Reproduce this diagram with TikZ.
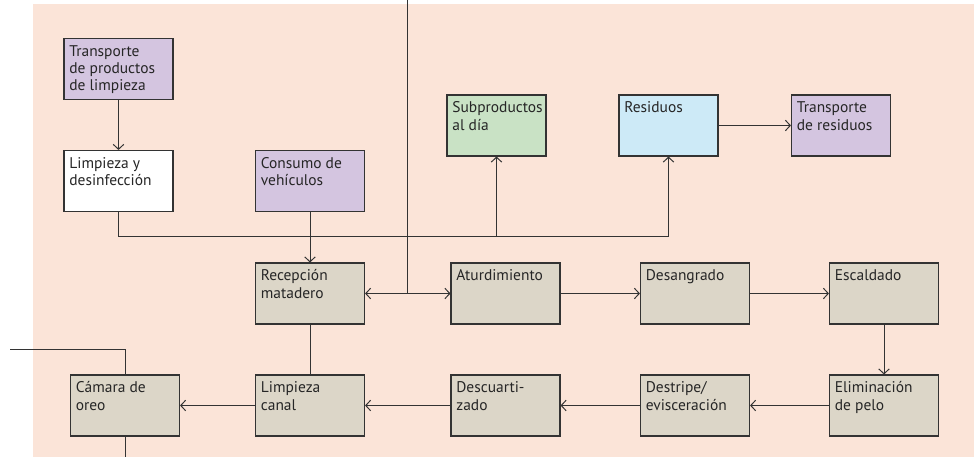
\documentclass[tikz,border=0pt]{standalone}
\usepackage{fontspec}
\setmainfont{PT Sans}
\usepackage{tikz}
\usetikzlibrary{arrows.meta}
\definecolor{fondo}{HTML}{FBE4D8}
\definecolor{gris}{HTML}{DCD6C8}
\definecolor{lila}{HTML}{D4C5E0}
\definecolor{verde}{HTML}{C9E2C5}
\definecolor{celeste}{HTML}{CDEAF7}
\definecolor{linea}{HTML}{333333}
\tikzset{
  >={Straight Barb[length=3.5pt,width=7.5pt]},
  caja/.style={draw=linea, line width=0.9pt, fill=gris, minimum width=2.72cm, minimum height=1.52cm, inner sep=0pt},
  cajita/.style={caja, minimum width=2.47cm},
  txt/.style={anchor=north west, align=left, inner xsep=4pt, inner ysep=5pt, text=black!85,
    font=\fontsize{11}{12.4}\selectfont},
  flujo/.style={draw=linea, line width=0.7pt}
}

\begin{document}
\begin{tikzpicture}[x=0.025cm, y=-0.025cm]
        \useasboundingbox (0,0) rectangle (974,457);
        \fill[fondo] (33,4) rectangle (974,457);
        % cajas de arriba
        \node[caja, fill=lila, label={[txt]north west:Transporte\\de productos\\de limpieza}] (tpl) at (118.5,69) {};
        \node[caja, fill=white, label={[txt]north west:Limpieza y\\desinfección}] (lyd) at (118.5,181) {};
        \node[caja, fill=lila, label={[txt]north west:Consumo de\\vehículos}] (cv) at (310,181) {};
        \node[cajita, fill=verde, label={[txt]north west:Subproductos\\al día}] (sub) at (496.5,125.5) {};
        \node[cajita, fill=celeste, label={[txt]north west:Residuos}] (res) at (668.5,125.5) {};
        \node[cajita, fill=lila, label={[txt]north west:Transporte\\de residuos}] (tr) at (841,125.5) {};
        % linea de proceso
        \node[caja, label={[txt]north west:Recepción\\matadero}] (rec) at (310,293.5) {};
        \node[caja, label={[txt]north west:Aturdimiento}] (atu) at (505.5,293.5) {};
        \node[caja, label={[txt]north west:Desangrado}] (des) at (695,293.5) {};
        \node[caja, label={[txt]north west:Escaldado}] (esc) at (884,293.5) {};
        \node[caja, label={[txt]north west:Cámara de\\oreo}] (cam) at (125,405.5) {};
        \node[caja, label={[txt]north west:Limpieza\\canal}] (lc) at (310,405.5) {};
        \node[caja, label={[txt]north west:Descuarti-\\zado}] (dsc) at (505.5,405.5) {};
        \node[caja, label={[txt]north west:Destripe/\\evisceración}] (dst) at (695,405.5) {};
        \node[caja, label={[txt]north west:Eliminación\\de pelo}] (eli) at (884,405.5) {};
        \coordinate (bus) at (0,236);
        \coordinate (arriba) at (407,0);
        \coordinate (camin) at (10,349);
        \coordinate (camout) at (125,457);
        % conexiones
        \draw[flujo,->] (tpl) -- (lyd);
        \draw[flujo,->] (lyd.south) |- (bus -| res.south) -- (res.south);
        \draw[flujo,->] (bus -| sub.south) -- (sub.south);
        \draw[flujo,->] (cv) -- (rec);
        \draw[flujo,->] (res) -- (tr);
        \draw[flujo] (arriba) -- (arriba |- rec.east);
        \draw[flujo,<->] (rec) -- (atu);
        \draw[flujo,->] (atu) -- (des);
        \draw[flujo,->] (des) -- (esc);
        \draw[flujo,->] (esc) -- (eli);
        \draw[flujo,->] (eli) -- (dst);
        \draw[flujo,->] (dst) -- (dsc);
        \draw[flujo,->] (dsc) -- (lc);
        \draw[flujo,->] (lc) -- (cam);
        \draw[flujo] (rec) -- (lc);
        \draw[flujo] (cam.north) |- (camin);
        \draw[flujo] (cam.south) -- (camout);
    \end{tikzpicture}
\end{document}
